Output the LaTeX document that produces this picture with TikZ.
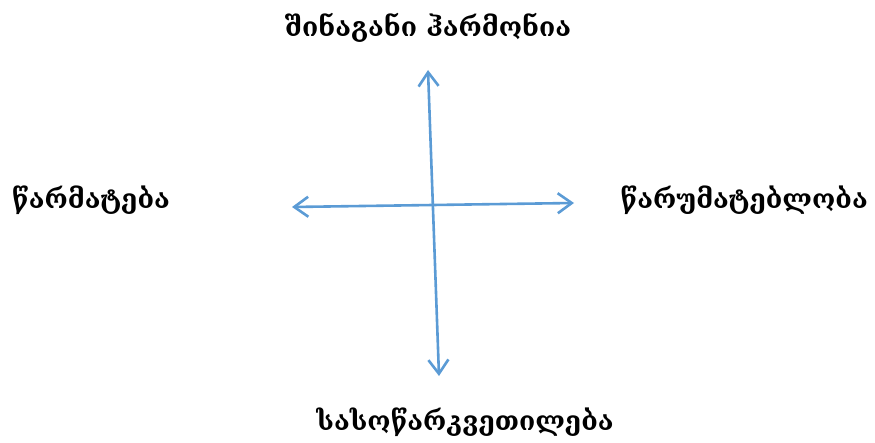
\documentclass[tikz,border=0pt]{standalone}
\usepackage{fontspec}
\setmainfont{DejaVu Serif}
\usetikzlibrary{arrows.meta}
\definecolor{axisblue}{HTML}{5B9BD5}
\begin{document}
\begin{tikzpicture}[x=1pt,y=-1pt,
  lbl/.style={font=\fontsize{26.5}{30}\selectfont\bfseries, inner sep=0pt},
  tipb/.tip={Straight Barb[length=14pt,width=20pt,line width=2.6pt]},
  axis/.style={draw=axisblue, line width=2.6pt, tipb-tipb}]
\useasboundingbox (0,0) rectangle (875,443);
\node[lbl] (top) at (428,28) {შინაგანი ჰარმონია};
\node[lbl, anchor=west] (left) at (12,200) {წარმატება};
\node[lbl, anchor=east] (right) at (868,200) {წარუმატებლობა};
\node[lbl] (bot) at (465,422) {სასოწარკვეთილება};
\coordinate (vt) at (428,70);
\coordinate (vb) at (439,376);
\coordinate (hl) at (292,207);
\coordinate (hr) at (574,203);
\draw[axis] (vt) -- (vb);
\draw[axis] (hl) -- (hr);
\end{tikzpicture}
\end{document}
